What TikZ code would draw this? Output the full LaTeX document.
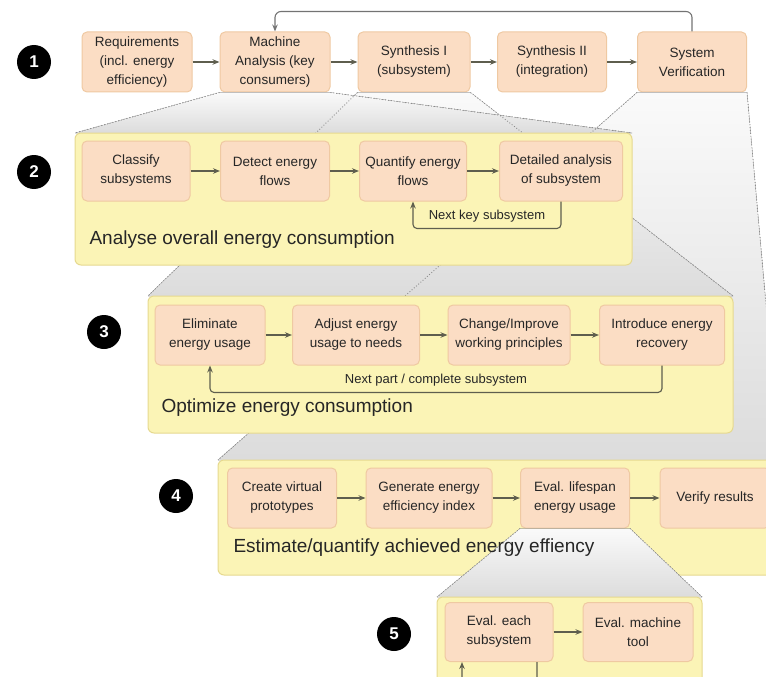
\documentclass[tikz,border=0pt]{standalone}
\usepackage{fontspec}
\setmainfont{Liberation Sans}
\usetikzlibrary{arrows.meta}
\definecolor{boxfill}{HTML}{FBDDC4}
\definecolor{boxline}{HTML}{EFC9A2}
\definecolor{panelfill}{HTML}{FBF4B6}
\definecolor{panelline}{HTML}{E6D98F}
\definecolor{flowcol}{HTML}{5E5E4E}
\definecolor{zoomtop}{HTML}{FAFAFA}
\definecolor{zoombottom}{HTML}{DCDCDC}
\tikzset{
  stepbox/.style={draw=boxline, line width=1pt, fill=boxfill, rounded corners=5pt, minimum height=60pt, align=center, inner sep=2pt, text=black!85, font=\fontsize{13.5}{19}\selectfont},
  panel/.style={draw=panelline, line width=1pt, fill=panelfill, rounded corners=6pt},
  bignum/.style={circle, fill=black, text=white, minimum size=34pt, inner sep=0pt, font=\fontsize{17}{17}\selectfont\bfseries},
  flow/.style={draw=flowcol, line width=1.1pt, -{Stealth[length=7pt,width=5.5pt]}},
  zoomarea/.style={top color=zoomtop, bottom color=zoombottom, draw=none},
  zoomedge/.style={draw=black!45, line width=0.9pt, dotted},
  paneltitle/.style={anchor=west, font=\fontsize{19}{19}\selectfont, text=black!85},
  looplabel/.style={font=\fontsize{13}{13}\selectfont, text=black!85}
}
\begin{document}
\begin{tikzpicture}[x=1pt, y=-1pt]
\useasboundingbox (0,0) rectangle (766,677);
\clip (0,0) rectangle (766,677);

\node[stepbox, minimum width=110pt] (req) at (137,62) {Requirements\\(incl. energy\\efficiency)};
\node[stepbox, minimum width=110pt] (mach) at (275,62) {Machine\\Analysis (key\\consumers)};
\node[stepbox, minimum width=112pt] (syn1) at (414,62) {Synthesis I\\(subsystem)};
\node[stepbox, minimum width=109pt] (syn2) at (552,62) {Synthesis II\\(integration)};
\node[stepbox, minimum width=109pt] (ver) at (692,62) {System\\Verification};
\draw[flow] (req) -- (mach);
\draw[flow] (mach) -- (syn1);
\draw[flow] (syn1) -- (syn2);
\draw[flow] (syn2) -- (ver);
\draw[flow, draw=black!55, rounded corners=6pt] (ver.north) -- ++(0,-20) -| (mach.north);

\coordinate (p2nw) at (75,133);  \coordinate (p2ne) at (632,133);
\coordinate (p3nw) at (148,296); \coordinate (p3ne) at (733,296);
\coordinate (p4nw) at (218,460); \coordinate (p4ne) at (780,460);
\coordinate (p5nw) at (437,597); \coordinate (p5ne) at (702,597);

\fill[zoomarea] (ver.south west) -- (ver.south east) -- (p4ne) -- (p4nw) -- cycle;
\fill[zoomarea] (syn1.south west) -- (syn1.south east) -- (p3ne) -- (p3nw) -- cycle;
\fill[zoomarea] (mach.south west) -- (mach.south east) -- (p2ne) -- (p2nw) -- cycle;
\draw[zoomedge] (ver.south west) -- (p4nw) (ver.south east) -- (p4ne);
\draw[zoomedge] (syn1.south west) -- (p3nw) (syn1.south east) -- (p3ne);
\draw[zoomedge] (mach.south west) -- (p2nw) (mach.south east) -- (p2ne);

\filldraw[panel] (p2nw) rectangle (632,265);
\node[stepbox, minimum width=108pt] (cls) at (136,171) {Classify\\subsystems};
\node[stepbox, minimum width=109pt] (detf) at (275,171) {Detect energy\\flows};
\node[stepbox, minimum width=107pt] (qua) at (413,171) {Quantify energy\\flows};
\node[stepbox, minimum width=123pt] (dana) at (561,171) {Detailed analysis\\of subsystem};
\draw[flow] (cls) -- (detf);
\draw[flow] (detf) -- (qua);
\draw[flow] (qua) -- (dana);
\draw[flow, rounded corners=4pt] (dana.south) -- ++(0,27) -| node[looplabel, pos=0.25, above=2pt] {Next key subsystem} (qua.south);
\node[paneltitle] (t2) at (86,240) {Analyse overall energy consumption};

\filldraw[panel] (p3nw) rectangle (733,433);
\node[stepbox, minimum width=110pt] (elim) at (210,335) {Eliminate\\energy usage};
\node[stepbox, minimum width=127pt] (adj) at (356,335) {Adjust energy\\usage to needs};
\node[stepbox, minimum width=122pt] (chg) at (509,335) {Change/Improve\\working principles};
\node[stepbox, minimum width=125pt] (intro) at (662,335) {Introduce energy\\recovery};
\draw[flow] (elim) -- (adj);
\draw[flow] (adj) -- (chg);
\draw[flow] (chg) -- (intro);
\draw[flow, rounded corners=4pt] (intro.south) -- ++(0,27) -| node[looplabel, pos=0.25, above=2pt] {Next part / complete subsystem} (elim.south);
\node[paneltitle] (t3) at (158,408) {Optimize energy consumption};

\filldraw[panel] (p4nw) rectangle (780,575);
\node[stepbox, minimum width=109pt] (virt) at (282,498) {Create virtual\\prototypes};
\node[stepbox, minimum width=126pt] (gen) at (429,498) {Generate energy\\efficiency index};
\node[stepbox, minimum width=109pt] (life) at (575,498) {Eval. lifespan\\energy usage};
\node[stepbox, minimum width=110pt] (verres) at (715,498) {Verify results};
\draw[flow] (virt) -- (gen);
\draw[flow] (gen) -- (life);
\draw[flow] (life) -- (verres);
\fill[zoomarea] (life.south west) -- (life.south east) -- (p5ne) -- (p5nw) -- cycle;
\draw[zoomedge] (life.south west) -- (p5nw) (life.south east) -- (p5ne);
\node[paneltitle] (t4) at (230,548) {Estimate/quantify achieved energy effiency};

\filldraw[panel] (p5nw) rectangle (702,700);
\node[stepbox, minimum width=108pt, minimum height=59pt] (each) at (499,632) {Eval. each\\subsystem};
\node[stepbox, minimum width=110pt, minimum height=59pt] (tool) at (638,632) {Eval. machine\\tool};
\draw[flow] (each) -- (tool);
\draw[flow, rounded corners=4pt] ([xshift=38pt]each.south) -- ++(0,30) -| ([xshift=-37pt]each.south);

\node[bignum] (n1) at (34,62) {1};
\node[bignum] (n2) at (34,172) {2};
\node[bignum] (n3) at (104,332) {3};
\node[bignum] (n4) at (176,496) {4};
\node[bignum] (n5) at (394,634) {5};
\end{tikzpicture}
\end{document}
